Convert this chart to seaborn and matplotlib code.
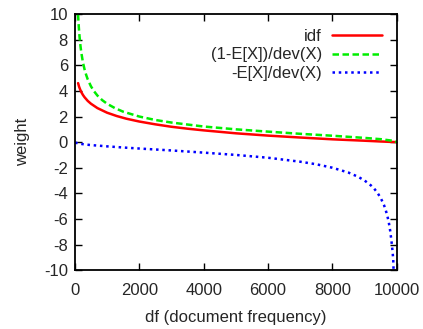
import matplotlib
matplotlib.use("Agg")
import matplotlib.pyplot as plt
import seaborn as sns

# values (N = 10000 documents)
df_idf = [100, 130, 160, 200, 250, 300, 400, 500, 700, 1000, 1300, 1600, 2000, 2500, 3000,
          3500, 4000, 5000, 6000, 7000, 8000, 9000, 9500, 10000]
idf = [4.61, 4.34, 4.14, 3.91, 3.69, 3.51, 3.22, 3.00, 2.66, 2.30, 2.04, 1.83, 1.61, 1.39, 1.20,
       1.05, 0.92, 0.69, 0.51, 0.36, 0.22, 0.11, 0.05, 0.00]

df_pos = [99, 110, 125, 140, 160, 180, 200, 250, 300, 350, 400, 500, 600, 700, 850, 1000, 1250,
          1500, 2000, 2500, 3000, 4000, 5000, 6000, 7000, 8000, 9000, 9500, 9900, 10000]
pos = [10.00, 9.48, 8.89, 8.39, 7.84, 7.39, 7.00, 6.24, 5.69, 5.26, 4.90, 4.36, 3.96, 3.64,
       3.28, 3.00, 2.65, 2.38, 2.00, 1.73, 1.53, 1.22, 1.00, 0.82, 0.65, 0.50, 0.33, 0.23,
       0.10, 0.00]

df_neg = [10, 100, 300, 500, 1000, 1500, 2000, 3000, 4000, 5000, 6000, 7000, 7500, 8000, 8500,
          8800, 9000, 9200, 9300, 9400, 9500, 9600, 9650, 9700, 9750, 9800, 9840, 9870, 9890, 9900]
neg = [-0.03, -0.10, -0.18, -0.23, -0.33, -0.42, -0.50, -0.65, -0.82, -1.00, -1.22, -1.53,
       -1.73, -2.00, -2.38, -2.71, -3.00, -3.39, -3.64, -3.96, -4.36, -4.90, -5.26, -5.69,
       -6.24, -7.00, -7.84, -8.57, -9.20, -9.95]

sns.set_style("ticks")
plt.rcParams['font.family'] = ['Liberation Sans', 'DejaVu Sans']
plt.rcParams['font.size'] = 12
plt.rcParams['axes.unicode_minus'] = False

fig = plt.figure(figsize=(4.23, 3.29), dpi=100)
ax = fig.add_axes([0.177, 0.179, 0.761, 0.778])

sns.lineplot(x=df_idf, y=idf, ax=ax, color='#ff0000', lw=1.8, label='idf')
sns.lineplot(x=df_pos, y=pos, ax=ax, color='#00ee00', lw=1.8, linestyle=(0, (2.6, 1.4)),
             label='(1-E[X])/dev(X)')
sns.lineplot(x=df_neg, y=neg, ax=ax, color='#0000ff', lw=1.8, linestyle=(0, (1, 1.5)),
             label='-E[X]/dev(X)')

ax.set_xlim(0, 10000)
ax.set_ylim(-10, 10)
ax.set_xticks(range(0, 10001, 2000))
ax.set_yticks(range(-10, 11, 2))
ax.tick_params(direction='in', length=5, width=1, top=True, right=True, labelsize=12, color='black')
ax.tick_params(axis='x', pad=9)
ax.tick_params(axis='y', pad=5)
for s in ax.spines.values():
    s.set_linewidth(1.3)
    s.set_color('black')

ax.set_xlabel('df (document frequency)', fontsize=12, labelpad=9)
ax.set_ylabel('weight', fontsize=12, labelpad=10)

ax.legend(loc='upper right', frameon=False, markerfirst=False, handlelength=3.0,
          handletextpad=0.6, labelspacing=0.2, borderaxespad=0.5, fontsize=12)

fig.savefig('out.png', dpi=100)
